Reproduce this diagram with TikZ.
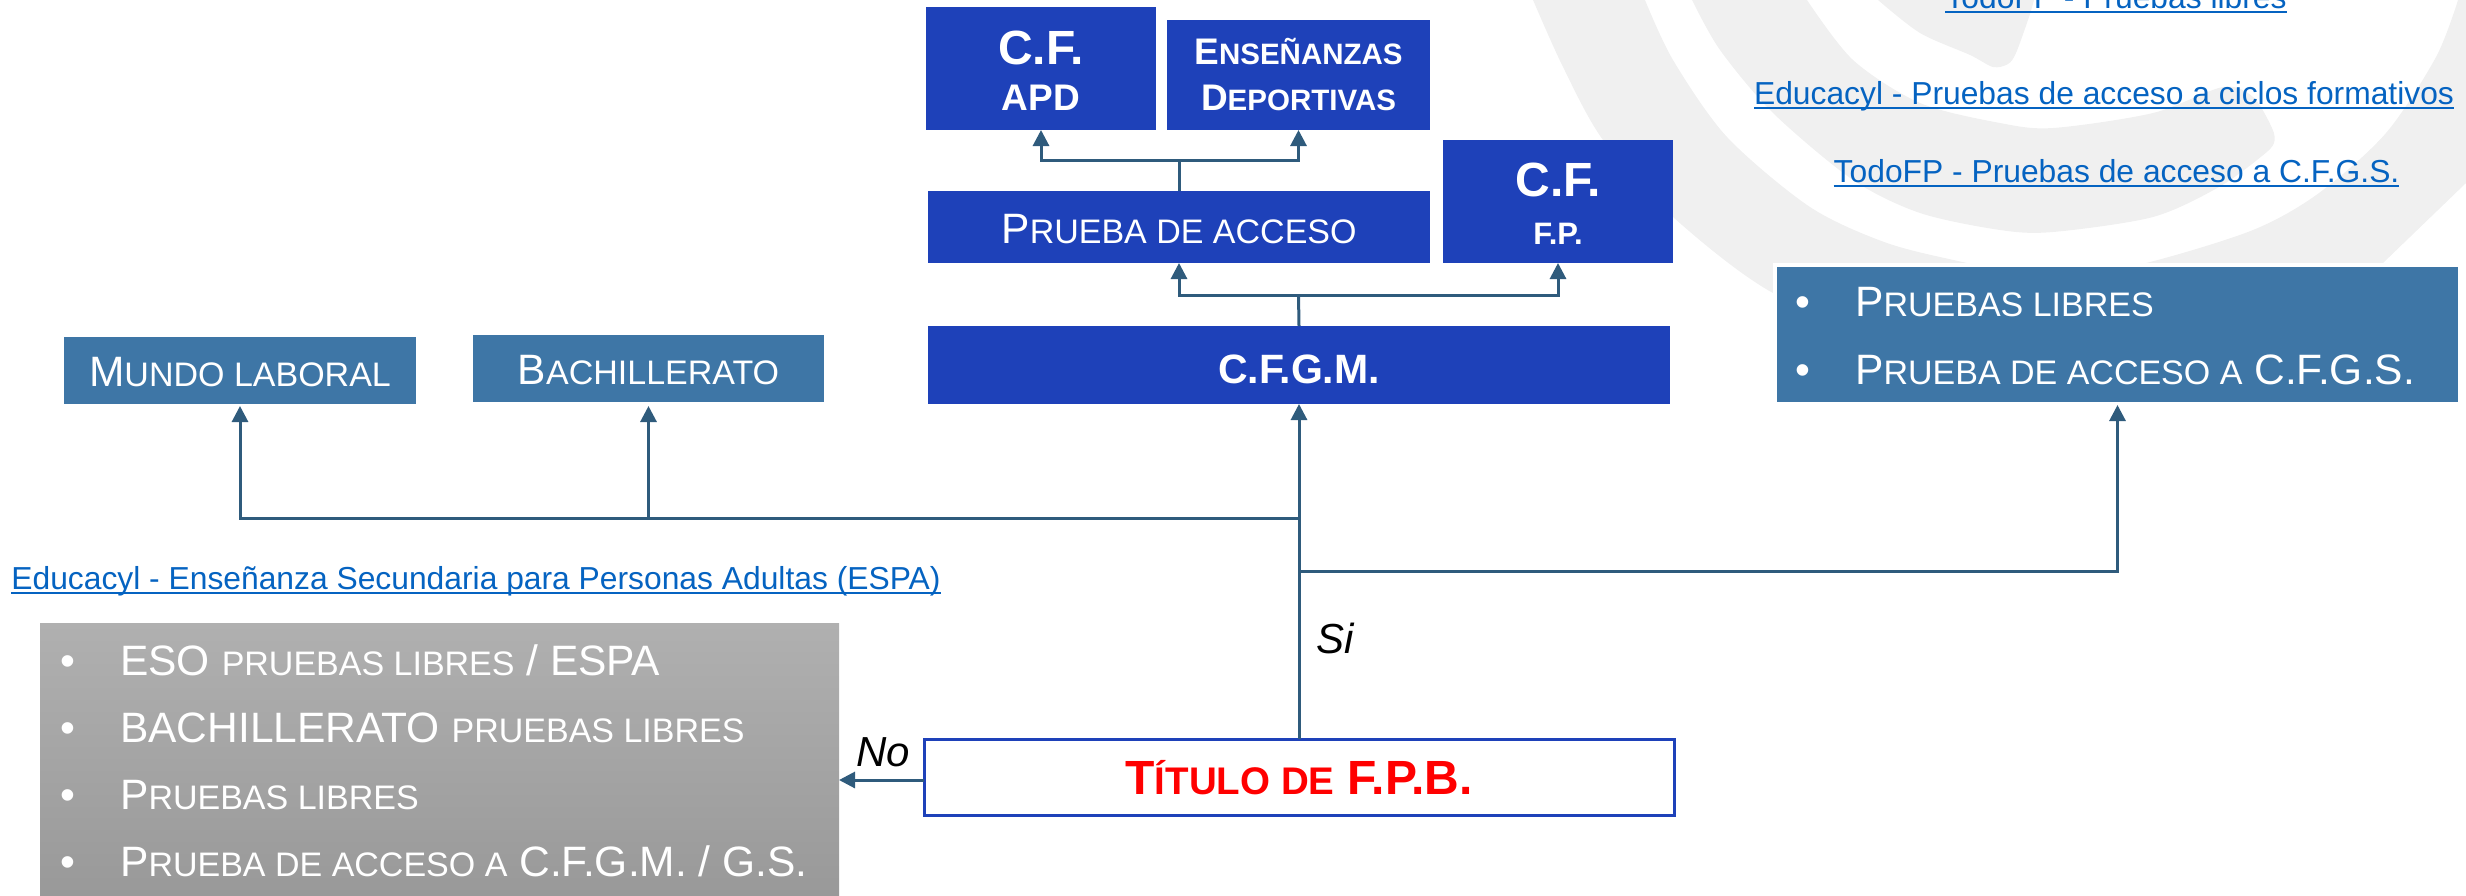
\documentclass[tikz,border=0pt]{standalone}
\usepackage{fontspec}
\setmainfont{Liberation Sans}
\usetikzlibrary{arrows.meta}
\definecolor{fpblue}{HTML}{1E41B9}
\definecolor{steel}{HTML}{3E76A6}
\definecolor{wire}{HTML}{2F5B7C}
\definecolor{linkc}{HTML}{0563C1}
\definecolor{logo}{HTML}{F0F0F0}
\newcommand\Fs[2]{{\fontsize{#1}{#1}\selectfont #2}}
\newcommand\Lnk[1]{\leavevmode\setbox0\hbox{#1}\rlap{\usebox0}\vrule height -2.5pt depth 4.5pt width \wd0\relax}
\newcommand\Bul{\makebox[60pt][l]{•}}
\newcommand\CapH[2]{\raisebox{0pt}[#1][0pt]{#2}}
\tikzset{
  box/.style={rectangle,inner sep=0pt,outer sep=0pt,align=center,text=white},
  bluebox/.style={box,fill=fpblue,font=\bfseries\fontsize{37}{46}\selectfont},
  bluereg/.style={box,fill=fpblue,font=\fontsize{42.5}{46}\selectfont},
  steelbox/.style={box,fill=steel,font=\fontsize{42.5}{46}\selectfont},
  linktext/.style={anchor=base,inner sep=0pt,text=linkc,font=\fontsize{31.8}{36}\selectfont},
  item/.style={anchor=base west,inner sep=0pt,text=white,font=\fontsize{42.5}{46}\selectfont},
  answer/.style={anchor=base west,inner sep=0pt,font=\itshape\fontsize{42}{46}\selectfont},
  wireline/.style={draw=wire,line width=3pt},
  arr/.style={wireline,-{Triangle[length=16pt,width=16pt]}},
}
\begin{document}
\begin{tikzpicture}[x=1pt,y=-1pt]
\useasboundingbox (0,0) rectangle (2466,895);
\clip (0,0) rectangle (2466,895);
% background logo
\fill[logo] plot[smooth] coordinates {(1533,0) (1563,67) (1603,140) (1673,217) (1773,293) (1900,340)}
  -- (2300,340) -- plot[smooth] coordinates {(2383,263) (2466,183)} -- (2466,0) -- (2458,0)
  -- plot[smooth] coordinates {(2458,0) (2436,57) (2386,133) (2319,193) (2253,230) (2146,263) (2050,280) (1967,263) (1887,243) (1810,207) (1727,137) (1673,60) (1645,0)} -- cycle;
\fill[logo] plot[smooth] coordinates {(1692,0) (1720,50) (1773,113) (1853,180) (1920,213) (2000,230) (2053,232) (2153,217) (2219,187) (2262,156) (2274,143) (2272,128) (2253,97) (2223,87) (2153,113) (2053,128) (2000,123) (1920,103) (1853,60) (1807,0)} -- cycle;
\fill[logo] plot[smooth] coordinates {(1878,0) (1920,33) (1970,55) (1993,67) (2008,64) (2016,53) (2029,17) (2034,0)} -- cycle;
\fill[white] (1773,263) rectangle (2466,410);
% blue boxes
\node[bluebox,minimum width=230pt,minimum height=123pt] (apd) at (1041,68.5) {\rule{0pt}{38pt}\Fs{48}{C.F.}\\APD};
\node[bluebox,minimum width=263pt,minimum height=110pt] (ens) at (1298.5,75) {\CapH{26pt}{E\Fs{29.5}{NSEÑANZAS}}\\D\Fs{29.5}{EPORTIVAS}};
\node[bluereg,minimum width=502pt,minimum height=72pt] (prueba) at (1179,227) {\raisebox{-1.5pt}[30pt][0pt]{P\Fs{34}{RUEBA DE ACCESO}}};
\node[bluebox,minimum width=230pt,minimum height=123pt,font=\bfseries\fontsize{31}{48}\selectfont] (cffp) at (1558,201.5) {\rule{0pt}{38pt}\Fs{48}{C.F.}\\F.P.};
\node[bluebox,minimum width=742pt,minimum height=78pt,font=\bfseries\fontsize{41}{46}\selectfont] (cfgm) at (1299,365) {\raisebox{-4pt}[29pt][0pt]{C.F.G.M.}};
% steel boxes
\node[steelbox,minimum width=352pt,minimum height=67.5pt] (mundo) at (240,370.25) {\raisebox{-1pt}[30pt][0pt]{M\Fs{34}{UNDO LABORAL}}};
\node[steelbox,minimum width=351pt,minimum height=67pt] (bach) at (648.5,368.5) {\raisebox{-1pt}[30pt][0pt]{B\Fs{34}{ACHILLERATO}}};
\node[box,fill=steel,minimum width=681pt,minimum height=135pt] (libres) at (2117.5,334.5) {};
\node[item] (li1) at (1795,316) {\Bul P\Fs{34}{RUEBAS LIBRES}};
\node[item] (li2) at (1795,384) {\Bul P\Fs{34}{RUEBA DE ACCESO A} C.F.G.S.};
% grey box
\node[box,top color=black!31,bottom color=black!40,minimum width=799pt,minimum height=272pt] (grey) at (439.5,759) {};
\node[item] (g1) at (60,675.5) {\Bul ESO \Fs{34}{PRUEBAS LIBRES} / ESPA};
\node[item] (g2) at (60,742.5) {\Bul BACHILLERATO \Fs{34}{PRUEBAS LIBRES}};
\node[item] (g3) at (60,809.5) {\Bul P\Fs{34}{RUEBAS LIBRES}};
\node[item] (g4) at (60,876.5) {\Bul P\Fs{34}{RUEBA DE ACCESO A} C.F.G.M. / G.S.};
% title
\node[box,draw=fpblue,line width=3pt,fill=white,text=red,minimum width=750pt,minimum height=76pt,font=\bfseries\fontsize{48}{50}\selectfont] (titulo) at (1299,777) {\CapH{34pt}{T\Fs{38.5}{ÍTULO DE} F.P.B.}};
% links
\node[linktext] (l1) at (2116,8.5) {\Lnk{TodoFP - Pruebas libres}};
\node[linktext] (l2) at (2104,104) {\Lnk{Educacyl - Pruebas de acceso a ciclos formativos}};
\node[linktext] (l3) at (2116.5,182) {\Lnk{TodoFP - Pruebas de acceso a C.F.G.S.}};
\node[linktext] (l4) at (476,589) {\Lnk{Educacyl - Enseñanza Secundaria para Personas Adultas (ESPA)}};
% answers
\node[answer] (si) at (1316,653.5) {Si};
\node[answer] (no) at (856,766) {No};
% connectors
\coordinate (j1) at (1179,160);
\coordinate (j2) at (1298.5,295);
\coordinate (j3) at (1298.5,518);
\coordinate (j4) at (1298.5,571);
\coordinate (bachj) at (648.5,518);
\coordinate (mundotip) at (240,406);
\coordinate (bachtip) at (648.5,406);
\coordinate (libtip) at (2117.5,405);
\coordinate (nostart) at (924,780);
\draw[wireline] (prueba.north) -- (j1);
\draw[arr] (j1) -| (apd.south);
\draw[arr] (j1) -| (ens.south);
\draw[wireline] (cfgm.north) -- (j2);
\draw[arr] (j2) -| (prueba.south);
\draw[arr] (j2) -| (cffp.south);
\draw[arr] (titulo.north) -- (cfgm.south);
\draw[arr] (j3) -| (mundotip);
\draw[arr] (bachj) -- (bachtip);
\draw[arr] (j4) -| (libtip);
\draw[arr] (nostart) -- (grey.east |- nostart);
\end{tikzpicture}
\end{document}
